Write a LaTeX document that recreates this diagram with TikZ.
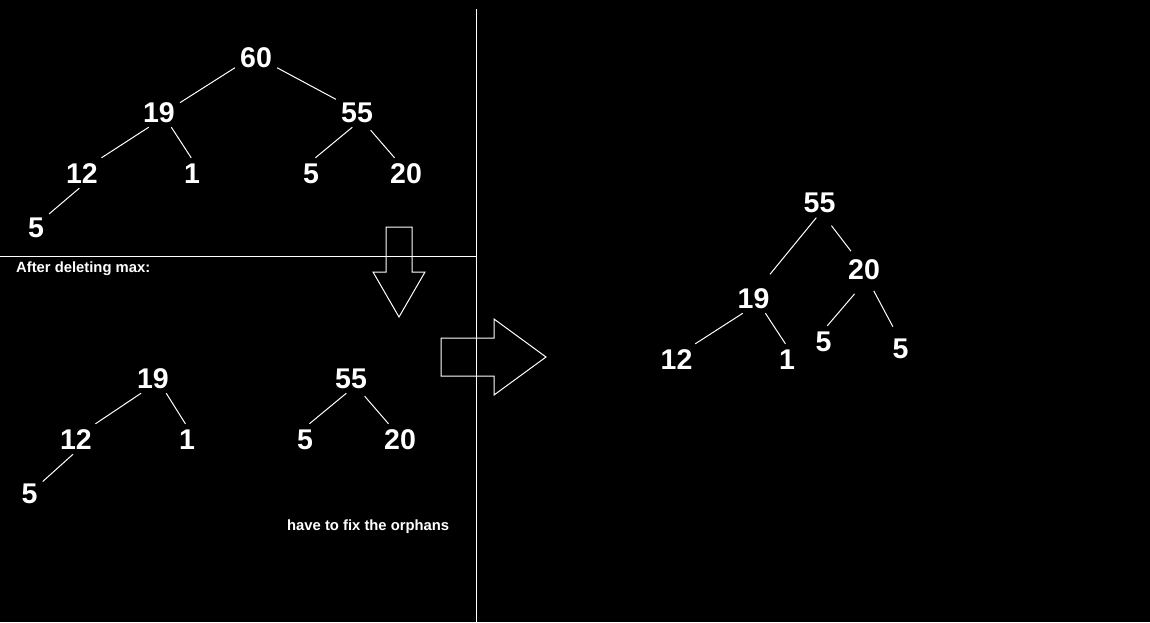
\documentclass[tikz,border=0pt]{standalone}
\usepackage{fontspec}
\setmainfont{Liberation Sans}

\begin{document}
\begin{tikzpicture}[x=1pt,y=-1pt,
    key/.style={text=white,font=\fontsize{28.5}{28.5}\selectfont\bfseries,
      inner xsep=5pt,inner ysep=5pt,text height=20pt,text depth=0pt},
    note/.style={text=white,font=\fontsize{14.8}{14.8}\selectfont\bfseries,
      inner sep=0pt,anchor=west},
    link/.style={white,line width=1pt}]
   \fill[black] (0,0) rectangle (1150,622);
   \useasboundingbox (0,0) rectangle (1150,622);
   \node[key] (rTop) at (256,57) {60};
   \node[key] (lTop) at (159,112) {19};
   \node[key] (kTop) at (357,112) {55};
   \node[key] (llTop) at (82,173) {12};
   \node[key] (lrTop) at (192,173) {1};
   \node[key] (klTop) at (311,173) {5};
   \node[key] (krTop) at (406,173) {20};
   \node[key] (lllTop) at (36,227) {5};
   \draw[link] (rTop.207) -- (lTop.24);
   \draw[link] (rTop.333) -- (kTop.149);
   \draw[link] (lTop.236) -- (llTop.38);
   \draw[link] (lTop.309) -- (lrTop.93);
   \draw[link] (kTop.253) -- (klTop.74);
   \draw[link,shorten <=4pt] (kTop.306) -- (krTop.127);
   \draw[link] (llTop.260) -- (lllTop.45);
   \draw[link] (0,256) -- (476,256);
   \draw[link] (476,9) -- (476,622);
   \node[note] (head) at (16,269) {After deleting max:};
   \node[key] (lBot) at (153,378) {19};
   \node[key] (llBot) at (76,439) {12};
   \node[key] (lrBot) at (187,439) {1};
   \node[key] (lllBot) at (29.5,493) {5};
   \node[key] (kBot) at (351,378) {55};
   \node[key] (klBot) at (305,439) {5};
   \node[key] (krBot) at (400,439) {20};
   \draw[link] (lBot.232) -- (llBot.38);
   \draw[link] (lBot.311) -- (lrBot.96);
   \draw[link] (llBot.259) -- (lllBot.41);
   \draw[link] (kBot.253) -- (klBot.74);
   \draw[link,shorten <=4pt] (kBot.306) -- (krBot.127);
   \node[note] (orph) at (287,527) {have to fix the orphans};
   \draw[link] (386,227) -- (412,227) -- (412,272) -- (425,272) -- (399,317)
      -- (373,272) -- (386,272) -- cycle;
   \draw[link] (441,338) -- (494,338) -- (494,319) -- (546,357) -- (494,395)
      -- (494,376) -- (441,376) -- cycle;
   \node[key] (rNew) at (819.5,202.5) {55};
   \node[key] (lNew) at (753.5,298) {19};
   \node[key] (kNew) at (864,269.5) {20};
   \node[key] (llNew) at (676.5,359) {12};
   \node[key] (lrNew) at (787,359) {1};
   \node[key] (klNew) at (823.5,341) {5};
   \node[key] (krNew) at (900.5,348) {5};
   \draw[link,shorten >=11pt] (rNew.258) -- (lNew.58);
   \draw[link,shorten <=10pt,shorten >=4pt] (rNew.291) -- (kNew.125);
   \draw[link] (lNew.235) -- (llNew.39);
   \draw[link] (lNew.308) -- (lrNew.96);
   \draw[link,shorten <=12pt] (kNew.264) -- (klNew.76);
   \draw[link,shorten <=7pt,shorten >=7pt] (kNew.293) -- (krNew.106);
\end{tikzpicture}
\end{document}
